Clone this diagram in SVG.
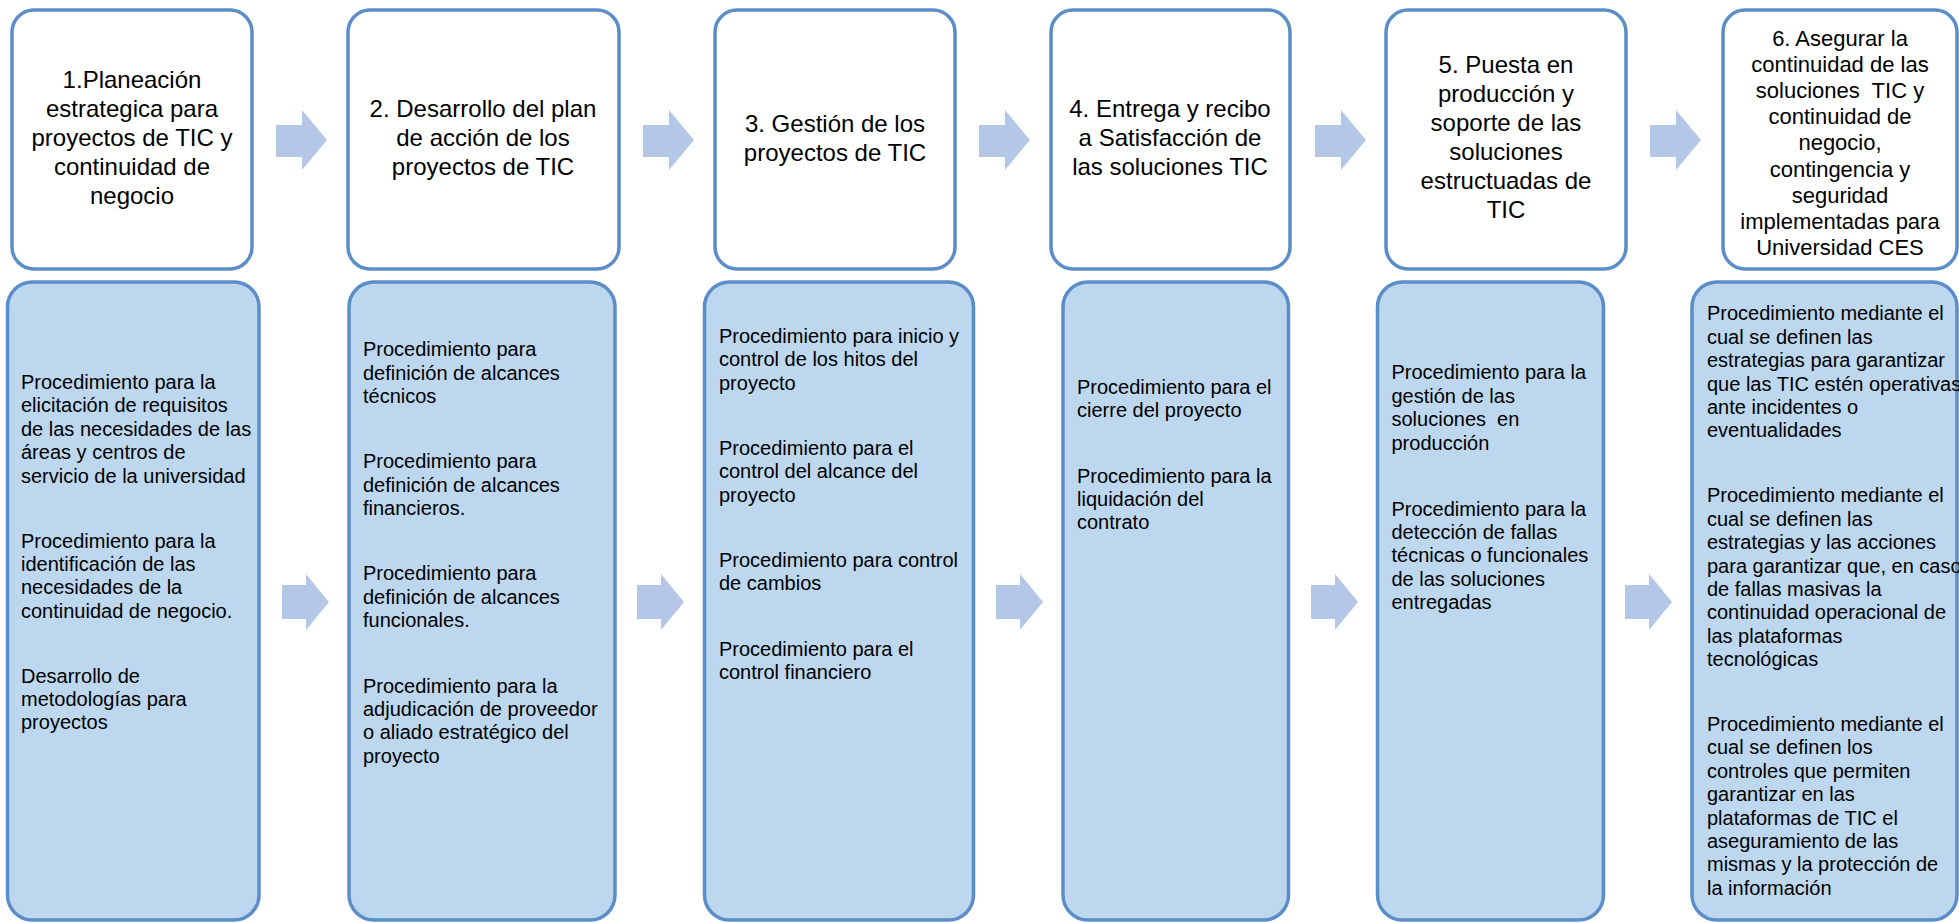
<svg xmlns="http://www.w3.org/2000/svg" xmlns:xlink="http://www.w3.org/1999/xlink" width="1959" height="923" viewBox="0 0 1959 923">
<style>
.top{fill:#ffffff;stroke:#5B8DC8;stroke-width:3.5}
.bot{fill:#BDD7EE;stroke:#5B8DC8;stroke-width:3.5}
.arr{fill:#B4C7E7}
.tt{font-family:"Liberation Sans",Arial,sans-serif;font-size:24px;fill:#000;text-anchor:middle}
.t6{font-family:"Liberation Sans",Arial,sans-serif;font-size:22px;fill:#000;text-anchor:middle}
.bt{font-family:"Liberation Sans",Arial,sans-serif;font-size:20px;fill:#000}
</style>
<defs>
<polygon id="at" points="0,125 26,125 26,110 51,140 26,170 26,157 0,157"/>
<polygon id="ab" points="0,585 24,585 24,574 47,602 24,630 24,619 0,619"/>
</defs>
<rect width="1959" height="923" fill="#ffffff"/>
<g id="connectors">
<use xlink:href="#at" class="arr" x="276"/>
<use xlink:href="#at" class="arr" x="643"/>
<use xlink:href="#at" class="arr" x="979"/>
<use xlink:href="#at" class="arr" x="1315"/>
<use xlink:href="#at" class="arr" x="1650"/>
<use xlink:href="#ab" class="arr" x="282"/>
<use xlink:href="#ab" class="arr" x="637"/>
<use xlink:href="#ab" class="arr" x="996"/>
<use xlink:href="#ab" class="arr" x="1311"/>
<use xlink:href="#ab" class="arr" x="1625"/>
</g>
<g id="step1">
<rect class="top" x="12" y="10" width="240" height="259" rx="22"/>
<text class="tt"><tspan x="132" y="88">1.Planeación</tspan><tspan x="132" y="117">estrategica para</tspan><tspan x="132" y="146">proyectos de TIC y</tspan><tspan x="132" y="175">continuidad de</tspan><tspan x="132" y="204">negocio</tspan></text>
</g>
<g id="step2">
<rect class="top" x="348" y="10" width="271" height="259" rx="22"/>
<text class="tt"><tspan x="483" y="117">2. Desarrollo del plan</tspan><tspan x="483" y="146">de acción de los</tspan><tspan x="483" y="175">proyectos de TIC</tspan></text>
</g>
<g id="step3">
<rect class="top" x="715" y="10" width="240" height="259" rx="22"/>
<text class="tt"><tspan x="835" y="132">3. Gestión de los</tspan><tspan x="835" y="161">proyectos de TIC</tspan></text>
</g>
<g id="step4">
<rect class="top" x="1051" y="10" width="239" height="259" rx="22"/>
<text class="tt"><tspan x="1170" y="117">4. Entrega y recibo</tspan><tspan x="1170" y="146">a Satisfacción de</tspan><tspan x="1170" y="175">las soluciones TIC</tspan></text>
</g>
<g id="step5">
<rect class="top" x="1386" y="10" width="240" height="259" rx="22"/>
<text class="tt"><tspan x="1506" y="73">5. Puesta en</tspan><tspan x="1506" y="102">producción y</tspan><tspan x="1506" y="131">soporte de las</tspan><tspan x="1506" y="160">soluciones</tspan><tspan x="1506" y="189">estructuadas de</tspan><tspan x="1506" y="218">TIC</tspan></text>
</g>
<g id="step6">
<rect class="top" x="1723" y="10" width="234" height="259" rx="22"/>
<text class="t6"><tspan x="1840" y="46">6. Asegurar la</tspan><tspan x="1840" y="72">continuidad de las</tspan><tspan x="1840" y="98" xml:space="preserve">soluciones  TIC y</tspan><tspan x="1840" y="124">continuidad de</tspan><tspan x="1840" y="150">negocio,</tspan><tspan x="1840" y="177">contingencia y</tspan><tspan x="1840" y="203">seguridad</tspan><tspan x="1840" y="229">implementadas para</tspan><tspan x="1840" y="255">Universidad CES</tspan></text>
</g>
<g id="detail1">
<rect class="bot" x="7.5" y="282" width="251.5" height="638" rx="25"/>
<text class="bt"><tspan x="21" y="389">Procedimiento para la</tspan><tspan x="21" y="412">elicitación de requisitos</tspan><tspan x="21" y="435.5">de las necesidades de las</tspan><tspan x="21" y="459">áreas y centros de</tspan><tspan x="21" y="482.5">servicio de la universidad</tspan><tspan x="21" y="547.5">Procedimiento para la</tspan><tspan x="21" y="571">identificación de las</tspan><tspan x="21" y="594">necesidades de la</tspan><tspan x="21" y="617.5">continuidad de negocio.</tspan><tspan x="21" y="682.5">Desarrollo de</tspan><tspan x="21" y="706">metodologías para</tspan><tspan x="21" y="729">proyectos</tspan></text>
</g>
<g id="detail2">
<rect class="bot" x="349" y="282" width="266" height="638" rx="25"/>
<text class="bt"><tspan x="363" y="356">Procedimiento para</tspan><tspan x="363" y="379.5">definición de alcances</tspan><tspan x="363" y="403">técnicos</tspan><tspan x="363" y="468">Procedimiento para</tspan><tspan x="363" y="491.5">definición de alcances</tspan><tspan x="363" y="515">financieros.</tspan><tspan x="363" y="580">Procedimiento para</tspan><tspan x="363" y="603.5">definición de alcances</tspan><tspan x="363" y="627">funcionales.</tspan><tspan x="363" y="692.5">Procedimiento para la</tspan><tspan x="363" y="716">adjudicación de proveedor</tspan><tspan x="363" y="739">o aliado estratégico del</tspan><tspan x="363" y="762.5">proyecto</tspan></text>
</g>
<g id="detail3">
<rect class="bot" x="704.5" y="282" width="269" height="638" rx="25"/>
<text class="bt"><tspan x="719" y="343">Procedimiento para inicio y</tspan><tspan x="719" y="366">control de los hitos del</tspan><tspan x="719" y="389.5">proyecto</tspan><tspan x="719" y="454.5">Procedimiento para el</tspan><tspan x="719" y="478">control del alcance del</tspan><tspan x="719" y="501.5">proyecto</tspan><tspan x="719" y="566.5">Procedimiento para control</tspan><tspan x="719" y="590">de cambios</tspan><tspan x="719" y="655.5">Procedimiento para el</tspan><tspan x="719" y="679">control financiero</tspan></text>
</g>
<g id="detail4">
<rect class="bot" x="1063" y="282" width="225.5" height="638" rx="25"/>
<text class="bt"><tspan x="1077" y="394">Procedimiento para el</tspan><tspan x="1077" y="417">cierre del proyecto</tspan><tspan x="1077" y="482.5">Procedimiento para la</tspan><tspan x="1077" y="506">liquidación del</tspan><tspan x="1077" y="529">contrato</tspan></text>
</g>
<g id="detail5">
<rect class="bot" x="1377.5" y="282" width="226" height="638" rx="25"/>
<text class="bt"><tspan x="1391.5" y="379">Procedimiento para la</tspan><tspan x="1391.5" y="402.5">gestión de las</tspan><tspan x="1391.5" y="426" xml:space="preserve">soluciones  en</tspan><tspan x="1391.5" y="449.5">producción</tspan><tspan x="1391.5" y="516">Procedimiento para la</tspan><tspan x="1391.5" y="539">detección de fallas</tspan><tspan x="1391.5" y="562">técnicas o funcionales</tspan><tspan x="1391.5" y="585.5">de las soluciones</tspan><tspan x="1391.5" y="609">entregadas</tspan></text>
</g>
<g id="detail6">
<rect class="bot" x="1692" y="282" width="265" height="638" rx="25"/>
<text class="bt"><tspan x="1707" y="320">Procedimiento mediante el</tspan><tspan x="1707" y="343.5">cual se definen las</tspan><tspan x="1707" y="367">estrategias para garantizar</tspan><tspan x="1707" y="390.5">que las TIC estén operativas</tspan><tspan x="1707" y="414">ante incidentes o</tspan><tspan x="1707" y="437">eventualidades</tspan><tspan x="1707" y="502">Procedimiento mediante el</tspan><tspan x="1707" y="525.5">cual se definen las</tspan><tspan x="1707" y="549">estrategias y las acciones</tspan><tspan x="1707" y="572.5">para garantizar que, en caso</tspan><tspan x="1707" y="596">de fallas masivas la</tspan><tspan x="1707" y="619">continuidad operacional de</tspan><tspan x="1707" y="642.5">las plataformas</tspan><tspan x="1707" y="666">tecnológicas</tspan><tspan x="1707" y="731">Procedimiento mediante el</tspan><tspan x="1707" y="754">cual se definen los</tspan><tspan x="1707" y="777.5">controles que permiten</tspan><tspan x="1707" y="801">garantizar en las</tspan><tspan x="1707" y="824.5">plataformas de TIC el</tspan><tspan x="1707" y="848">aseguramiento de las</tspan><tspan x="1707" y="871">mismas y la protección de</tspan><tspan x="1707" y="895">la información</tspan></text>
</g>
</svg>
